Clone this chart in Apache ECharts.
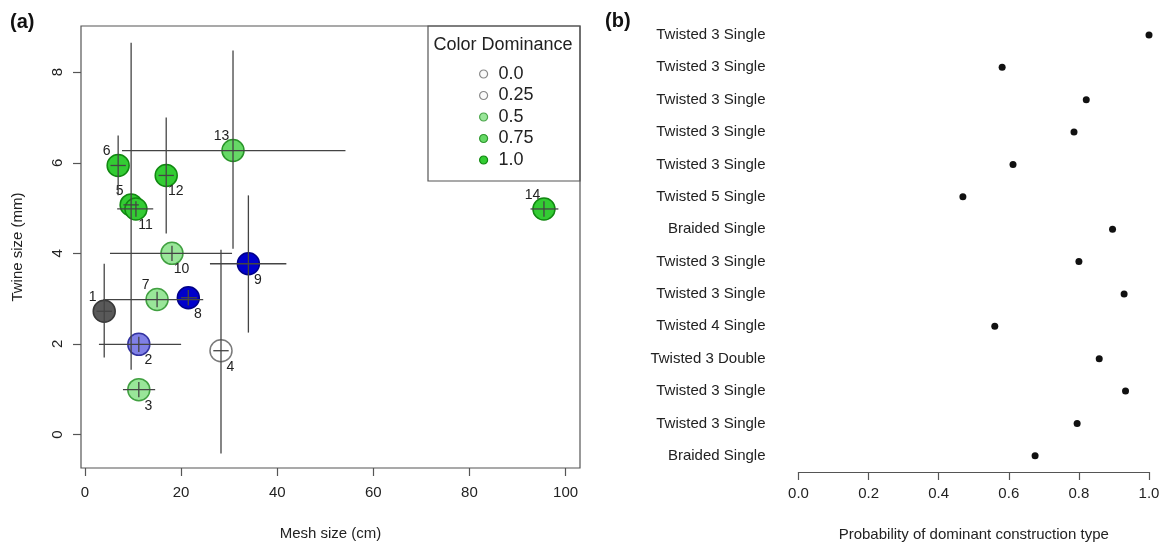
<!DOCTYPE html>
<html>
<head>
<meta charset="utf-8">
<script src="https://cdn.jsdelivr.net/npm/echarts@6/dist/echarts.min.js"></script>
<style>
  html, body { margin: 0; padding: 0; background: #fff; }
  #chart { width: 1164px; height: 547px; }
</style>
</head>
<body>
<div id="chart"></div>
<script>
// ---- Panel (a): mesh size vs twine size per net sample ----
const sampleIds   = ['1','2','3','4','5','6','7','8','9','10','11','12','13','14'];
const meshSize    = [4.0, 11.2, 11.2, 28.3, 9.6, 6.9, 15.0, 21.5, 34.0, 18.1, 10.6, 16.9, 30.8, 95.5];
const meshLow     = [2.4, 2.9, 7.9, 26.7, 8.0, 5.3, 3.8, 20.0, 26.0, 5.2, 6.7, 15.3, 7.7, 92.7];
const meshHigh    = [5.6, 20.0, 14.6, 29.9, 11.2, 8.5, 24.6, 23.3, 41.9, 30.6, 14.2, 18.5, 54.2, 98.5];
const twineSize   = [2.72, 1.99, 0.99, 1.85, 5.07, 5.94, 2.98, 3.02, 3.77, 4.00, 4.98, 5.72, 6.27, 4.98];
const twineLow    = [1.70, 1.82, 0.82, -0.42, 1.43, 5.28, 2.81, 2.85, 2.25, 3.83, 4.81, 4.44, 4.10, 4.81];
const twineHigh   = [3.77, 2.16, 1.16, 4.08, 8.65, 6.60, 3.15, 3.19, 5.28, 4.17, 5.15, 7.00, 8.48, 5.15];
const colorGroup  = ['black','blue','green','black','green','green','green','blue','blue','green','green','green','green','green'];
const dominance   = [0.75, 0.5, 0.5, 0.0, 1.0, 1.0, 0.5, 1.0, 1.0, 0.5, 1.0, 1.0, 0.75, 1.0];
const legendLevels = ['0.0', '0.25', '0.5', '0.75', '1.0'];
const meshTicks   = [0, 20, 40, 60, 80, 100];
const twineTicks  = [0, 2, 4, 6, 8];

// which side of the circle each sample number is written on
const labelSide   = ['UL','LR','LR','LR','UL','UL','UL','LR','LR','LR','LR','LR','UL','UL'];

// ---- Panel (b): probability of dominant construction type ----
const constructionTypes = [
  'Twisted 3 Single', 'Twisted 3 Single', 'Twisted 3 Single', 'Twisted 3 Single',
  'Twisted 3 Single', 'Twisted 5 Single', 'Braided Single', 'Twisted 3 Single',
  'Twisted 3 Single', 'Twisted 4 Single', 'Twisted 3 Double', 'Twisted 3 Single',
  'Twisted 3 Single', 'Braided Single'
];
const dominantProb = [1.0, 0.581, 0.821, 0.786, 0.612, 0.469, 0.896, 0.800, 0.929, 0.560, 0.858, 0.933, 0.795, 0.675];
const probTicks = [0, 0.2, 0.4, 0.6, 0.8, 1.0];

const FONT = '"Liberation Sans", Arial, Helvetica, sans-serif';
const TEXT = '#222';

const baseFill   = { green: '#33cc33', blue: '#0000cc', black: '#222222' };
const baseStroke = { green: '#118811', blue: '#000088', black: '#222222' };

// blend a colour with white: a = 1 gives the colour, a = 0 gives white
function mix(hex, a) {
  const n = parseInt(hex.slice(1), 16);
  const ch = [(n >> 16) & 255, (n >> 8) & 255, n & 255].map(c => Math.round(c * a + 255 * (1 - a)));
  return 'rgb(' + ch.join(',') + ')';
}

const pointData = sampleIds.map((id, i) => {
  const ul = labelSide[i] === 'UL';
  return {
    name: id,
    value: [meshSize[i], twineSize[i]],
    itemStyle: {
      color: mix(baseFill[colorGroup[i]], dominance[i]),
      borderColor: mix(baseStroke[colorGroup[i]], 0.6 + 0.4 * dominance[i]),
      borderWidth: 1.5,
      opacity: 1
    },
    label: { offset: ul ? [-11.5, -14] : [9.5, 16] }
  };
});

const barData = sampleIds.map((id, i) => [meshSize[i], twineSize[i], meshLow[i], meshHigh[i], twineLow[i], twineHigh[i]]);

const legendSeries = legendLevels.map(lv => ({
  type: 'scatter', name: lv, xAxisIndex: 0, yAxisIndex: 0, data: []
}));
const legendData = legendLevels.map(lv => {
  const d = parseFloat(lv);
  return {
    name: lv,
    itemStyle: {
      color: d <= 0.25 ? '#fafafa' : mix(baseFill.green, d),
      borderColor: d <= 0.25 ? '#888888' : mix(baseStroke.green, 0.5 + 0.5 * d),
      borderWidth: 1.2,
      opacity: 1
    }
  };
});

const chart = echarts.init(document.getElementById('chart'), null, { renderer: 'canvas' });

chart.setOption({
  animation: false,
  backgroundColor: '#ffffff',
  textStyle: { fontFamily: FONT },
  grid: [
    { left: 81, top: 26, width: 499, height: 442, show: true, borderColor: '#555', borderWidth: 1.2, backgroundColor: 'transparent' },
    { left: 798.5, top: 18.8, width: 350.5, height: 453.6 }
  ],
  xAxis: [
    {
      gridIndex: 0, type: 'value', min: -0.83, max: 103.0, position: 'bottom',
      name: 'Mesh size (cm)', nameLocation: 'middle', nameGap: 58,
      nameTextStyle: { fontSize: 15, color: TEXT, fontFamily: FONT },
      axisLine: { show: false, onZero: false },
      axisTick: { show: true, length: 8, customValues: meshTicks, lineStyle: { color: '#555', width: 1.2 } },
      axisLabel: { customValues: meshTicks, fontSize: 15, color: TEXT, margin: 17, fontFamily: FONT },
      splitLine: { show: false }
    },
    {
      gridIndex: 1, type: 'value', min: 0, max: 1, interval: 0.2,
      name: 'Probability of dominant construction type', nameLocation: 'middle', nameGap: 55,
      nameTextStyle: { fontSize: 15, color: TEXT, fontFamily: FONT },
      axisLine: { show: true, onZero: false, lineStyle: { color: '#555', width: 1.2 } },
      axisTick: { show: true, length: 8, customValues: probTicks, lineStyle: { color: '#555', width: 1.2 } },
      axisLabel: { customValues: probTicks, fontSize: 15, color: TEXT, margin: 14, fontFamily: FONT,
                   formatter: v => v.toFixed(1) },
      splitLine: { show: false }
    }
  ],
  yAxis: [
    {
      gridIndex: 0, type: 'value', min: -0.74, max: 9.02, position: 'left',
      name: 'Twine size (mm)', nameLocation: 'middle', nameGap: 56, nameRotate: 90,
      nameTextStyle: { fontSize: 15, color: TEXT, fontFamily: FONT },
      axisLine: { show: false, onZero: false },
      axisTick: { show: true, length: 8, customValues: twineTicks, lineStyle: { color: '#555', width: 1.2 } },
      axisLabel: { customValues: twineTicks, fontSize: 15, color: TEXT, margin: 16, rotate: 90, fontFamily: FONT },
      splitLine: { show: false }
    },
    {
      gridIndex: 1, type: 'category', inverse: true, data: constructionTypes,
      axisLine: { show: false }, axisTick: { show: false },
      axisLabel: { fontSize: 15, color: TEXT, margin: 33, fontFamily: FONT },
      splitLine: { show: false }
    }
  ],
  legend: {
    orient: 'vertical', left: 474, top: 60, itemGap: 3.5,
    itemWidth: 8, itemHeight: 8, icon: 'circle', selectedMode: false,
    textStyle: { fontSize: 18, color: TEXT, fontFamily: FONT, lineHeight: 18, padding: [0, 0, 0, 6] },
    data: legendData
  },
  graphic: [
    { type: 'rect', shape: { x: 428, y: 26, width: 152, height: 155 },
      style: { fill: 'transparent', stroke: '#555', lineWidth: 1.2 }, z: 10 },
    { type: 'text', x: 503, y: 45, z: 10,
      style: { text: 'Color Dominance', fontSize: 18, fill: TEXT, fontFamily: FONT, textAlign: 'center', textVerticalAlign: 'middle' } },
    { type: 'text', x: 10, y: 22, z: 10,
      style: { text: '(a)', fontSize: 20, fontWeight: 'bold', fill: '#111', fontFamily: FONT, textVerticalAlign: 'middle' } },
    { type: 'text', x: 605, y: 21, z: 10,
      style: { text: '(b)', fontSize: 20, fontWeight: 'bold', fill: '#111', fontFamily: FONT, textVerticalAlign: 'middle' } }
  ],
  series: [
    {
      type: 'scatter', name: 'samples', xAxisIndex: 0, yAxisIndex: 0, z: 2,
      symbol: 'circle', symbolSize: 22,
      data: pointData,
      label: { show: true, position: 'inside', formatter: p => p.name, fontSize: 14, color: TEXT, fontFamily: FONT },
      emphasis: { disabled: true }
    },
    {
      type: 'custom', name: 'intervals', xAxisIndex: 0, yAxisIndex: 0, z: 3,
      data: barData,
      encode: { x: 0, y: 1 },
      renderItem: (params, api) => {
        const x = api.value(0), y = api.value(1);
        const a = api.coord([api.value(2), y]), b = api.coord([api.value(3), y]);
        const c = api.coord([x, api.value(4)]), d = api.coord([x, api.value(5)]);
        const st = { stroke: '#444', lineWidth: 1.3 };
        return { type: 'group', children: [
          { type: 'line', shape: { x1: a[0], y1: a[1], x2: b[0], y2: b[1] }, style: st },
          { type: 'line', shape: { x1: c[0], y1: c[1], x2: d[0], y2: d[1] }, style: st }
        ] };
      }
    },
    ...legendSeries,
    {
      type: 'scatter', name: 'probability', xAxisIndex: 1, yAxisIndex: 1,
      symbol: 'circle', symbolSize: 7,
      itemStyle: { color: '#111', opacity: 1 },
      data: dominantProb,
      emphasis: { disabled: true }
    }
  ]
});
</script>
</body>
</html>
